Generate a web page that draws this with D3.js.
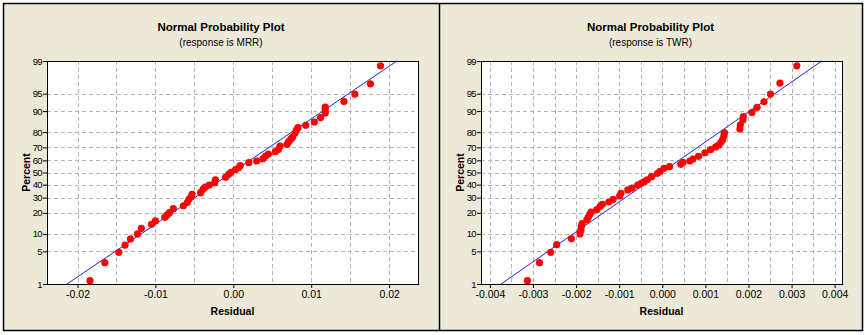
<!DOCTYPE html>
<html>
<head>
<meta charset="utf-8">
<script src="https://cdn.jsdelivr.net/npm/d3@7"></script>
<style>
  body{margin:0;background:#fff;}
  text{font-family:"Liberation Sans",Arial,sans-serif;fill:#000;}
  .title{font-weight:bold;font-size:11.5px;}
  .sub{font-size:10px;}
  .lab{font-weight:bold;font-size:10.5px;}
  .xt text{font-size:10.5px;}
  .yt text{font-size:9.5px;letter-spacing:-0.6px;}
</style>
</head>
<body>
<svg id="chart" width="868" height="335"></svg>
<script>
// percent axis
var percentTicks=[1,5,10,20,30,40,50,60,70,80,90,95,99];

// MRR panel
var mrrTicks=[-0.02,-0.01,0,0.01,0.02];
var mrrResidual=[-0.0184,-0.0165,-0.0147,-0.0139,-0.0132,-0.0123,-0.0118,-0.0105,-0.0100,-0.0088,
  -0.0085,-0.0082,-0.0077,-0.0064,-0.0059,-0.0057,-0.0054,-0.0053,-0.0042,-0.0039,
  -0.0036,-0.0031,-0.0024,-0.0023,-0.0010,-0.0006,-0.0003,0.0003,0.0007,0.0009,
  0.0020,0.0030,0.0038,0.0041,0.0045,0.0054,0.0058,0.0060,0.0069,0.0071,
  0.0074,0.0076,0.0079,0.0081,0.0083,0.0093,0.0104,0.0112,0.0118,0.0118,
  0.0118,0.0142,0.0156,0.0176,0.0189];
var mrrPercent=[1.2,3.0,4.8,6.5,8.3,10.0,12.2,14.0,15.6,17.5,
  18.8,20.1,22.5,24.4,26.7,28.8,30.7,32.5,33.7,36.3,
  38.1,39.7,41.6,44.0,46.0,48.5,50.2,52.5,54.1,55.8,
  58.1,59.5,61.3,63.2,65.0,66.8,68.6,71.0,72.2,74.0,
  75.8,76.9,79.3,81.2,82.5,83.8,85.4,87.4,89.3,90.6,
  91.4,93.1,94.9,96.8,98.7];
var mrrFit=[-0.02135,0.0210];   // residual at 1% and 99%

// TWR panel
var twrTicks=[-0.004,-0.003,-0.002,-0.001,0,0.001,0.002,0.003,0.004];
var twrResidual=[-0.00313,-0.00285,-0.00259,-0.00245,-0.00211,-0.00191,-0.00189,-0.00188,-0.00186,-0.00175,
  -0.00172,-0.00168,-0.00165,-0.00152,-0.00144,-0.00139,-0.00124,-0.00114,-0.00099,-0.00096,
  -0.00080,-0.00070,-0.00057,-0.00049,-0.00042,-0.00035,-0.00025,-0.00011,-0.00005,0.00004,
  0.00017,0.00043,0.00048,0.00064,0.00071,0.00084,0.00099,0.00112,0.00124,0.00131,
  0.00136,0.00140,0.00143,0.00144,0.00180,0.00181,0.00187,0.00188,0.00208,0.00220,
  0.00236,0.00251,0.00273,0.00312];
var twrPercent=[1.2,3.0,4.8,6.6,8.4,10.0,11.4,12.9,14.3,16.1,
  17.5,19.2,20.5,21.9,24.0,25.4,26.9,28.8,31.2,33.2,
  35.8,37.3,39.7,41.1,42.4,44.0,46.5,49.3,51.0,53.5,
  54.8,56.8,58.4,59.5,61.1,63.2,66.0,68.3,70.3,71.7,
  73.6,75.3,77.7,79.7,81.8,83.9,86.3,87.8,89.5,91.3,
  93.0,94.9,96.9,98.7];
var twrFit=[-0.00374,0.00370];

// inverse normal cdf (Acklam)
function probit(p){
  var a=[-39.6968302866538,220.946098424521,-275.928510446969,138.357751867269,-30.6647980661472,2.50662827745924],
      b=[-54.4760987982241,161.585836858041,-155.698979859887,66.8013118877197,-13.2806815528857],
      c=[-0.00778489400243029,-0.322396458041136,-2.40075827716184,-2.54973253934373,4.37466414146497,2.93816398269878],
      d=[0.00778469570904146,0.32246712907004,2.445134137143,3.75440866190742];
  var q,r;
  if(p<0.02425){q=Math.sqrt(-2*Math.log(p));
    return (((((c[0]*q+c[1])*q+c[2])*q+c[3])*q+c[4])*q+c[5])/((((d[0]*q+d[1])*q+d[2])*q+d[3])*q+1);}
  if(p>1-0.02425){q=Math.sqrt(-2*Math.log(1-p));
    return -(((((c[0]*q+c[1])*q+c[2])*q+c[3])*q+c[4])*q+c[5])/((((d[0]*q+d[1])*q+d[2])*q+d[3])*q+1);}
  q=p-0.5;r=q*q;
  return (((((a[0]*r+a[1])*r+a[2])*r+a[3])*r+a[4])*r+a[5])*q/(((((b[0]*r+b[1])*r+b[2])*r+b[3])*r+b[4])*r+1);
}

var svg=d3.select("#chart");
var plotTop=61,plotBottom=284;

// background + frame
svg.append("rect").attr("x",3.5).attr("y",3.5).attr("width",859).attr("height",327)
   .attr("fill","#ECE9D8").attr("stroke","#000").attr("stroke-width",1.5);
svg.append("line").attr("x1",439.5).attr("x2",439.5).attr("y1",3.5).attr("y2",330.5)
   .attr("stroke","#000").attr("stroke-width",1.5);

function panel(o){
  var x=d3.scaleLinear().domain(o.domain).range([o.left,o.right]);
  var zy=d3.scaleLinear().domain([probit(0.01),probit(0.99)]).range([plotBottom,plotTop]);
  var y=p=>zy(probit(p/100));
  var g=svg.append("g");
  var fmt=d3.format(o.fmt);

  g.append("rect").attr("x",o.left).attr("y",plotTop).attr("width",o.right-o.left).attr("height",plotBottom-plotTop)
   .attr("fill","#fff");

  // grid
  g.selectAll(".vg").data(o.grid).enter().append("line")
   .attr("x1",d=>Math.round(x(d))+0.5).attr("x2",d=>Math.round(x(d))+0.5)
   .attr("y1",plotTop).attr("y2",plotBottom)
   .attr("stroke","#b4b4b4").attr("stroke-dasharray","4,3");
  g.selectAll(".hg").data(percentTicks.filter(d=>d>1&&d<99)).enter().append("line")
   .attr("x1",o.left).attr("x2",o.right)
   .attr("y1",d=>Math.round(y(d))+0.5).attr("y2",d=>Math.round(y(d))+0.5)
   .attr("stroke","#b4b4b4").attr("stroke-dasharray","4,3");

  // axes
  g.append("g").attr("class","xt").attr("transform","translate(0,"+plotBottom+")")
   .call(d3.axisBottom(x).tickValues(o.ticks).tickSize(4).tickPadding(3).tickFormat(d=>fmt(d).replace("−","-")))
   .call(a=>a.select(".domain").remove());
  var ya=d3.axisLeft(zy).tickValues(percentTicks.map(p=>probit(p/100))).tickSize(4).tickPadding(1)
   .tickFormat((d,i)=>percentTicks[i]);
  g.append("g").attr("class","yt").attr("transform","translate("+o.left+",0)")
   .call(ya).call(a=>a.select(".domain").remove());

  g.append("rect").attr("x",o.left+0.5).attr("y",plotTop+0.5).attr("width",o.right-o.left).attr("height",plotBottom-plotTop)
   .attr("fill","none").attr("stroke","#000");

  // fit line
  g.append("line").attr("x1",x(o.fit[0])).attr("y1",y(1)).attr("x2",x(o.fit[1])).attr("y2",y(99))
   .attr("stroke","#2020e0").attr("stroke-width",1);

  // points
  g.selectAll("circle").data(o.res).enter().append("circle")
   .attr("cx",d=>x(d)).attr("cy",(d,i)=>y(o.pct[i])).attr("r",3.6)
   .attr("fill","#f00");

  // text
  g.append("text").attr("class","title").attr("x",o.cx).attr("y",31).attr("text-anchor","middle").text("Normal Probability Plot");
  g.append("text").attr("class","sub").attr("x",o.cx).attr("y",45.5).attr("text-anchor","middle").text(o.sub);
  g.append("text").attr("class","lab").attr("x",(o.left+o.right)/2).attr("y",314.5).attr("text-anchor","middle").text("Residual");
  g.append("text").attr("class","lab").attr("transform","translate("+(o.left-21)+","+((plotTop+plotBottom)/2)+") rotate(-90)")
   .attr("text-anchor","middle").attr("dy","0.35em").text("Percent");
}

panel({left:47,right:418,domain:[-0.02392,0.02371],ticks:mrrTicks,grid:d3.range(-0.02,0.0201,0.005),
  fmt:".2f",res:mrrResidual,pct:mrrPercent,fit:mrrFit,cx:221,sub:"(response is MRR)"});
panel({left:481,right:842,domain:[-0.004207,0.00417],ticks:twrTicks,grid:d3.range(-0.004,0.00401,0.0005),
  fmt:".3f",res:twrResidual,pct:twrPercent,fit:twrFit,cx:650.5,sub:"(response is TWR)"});
</script>
</body>
</html>
